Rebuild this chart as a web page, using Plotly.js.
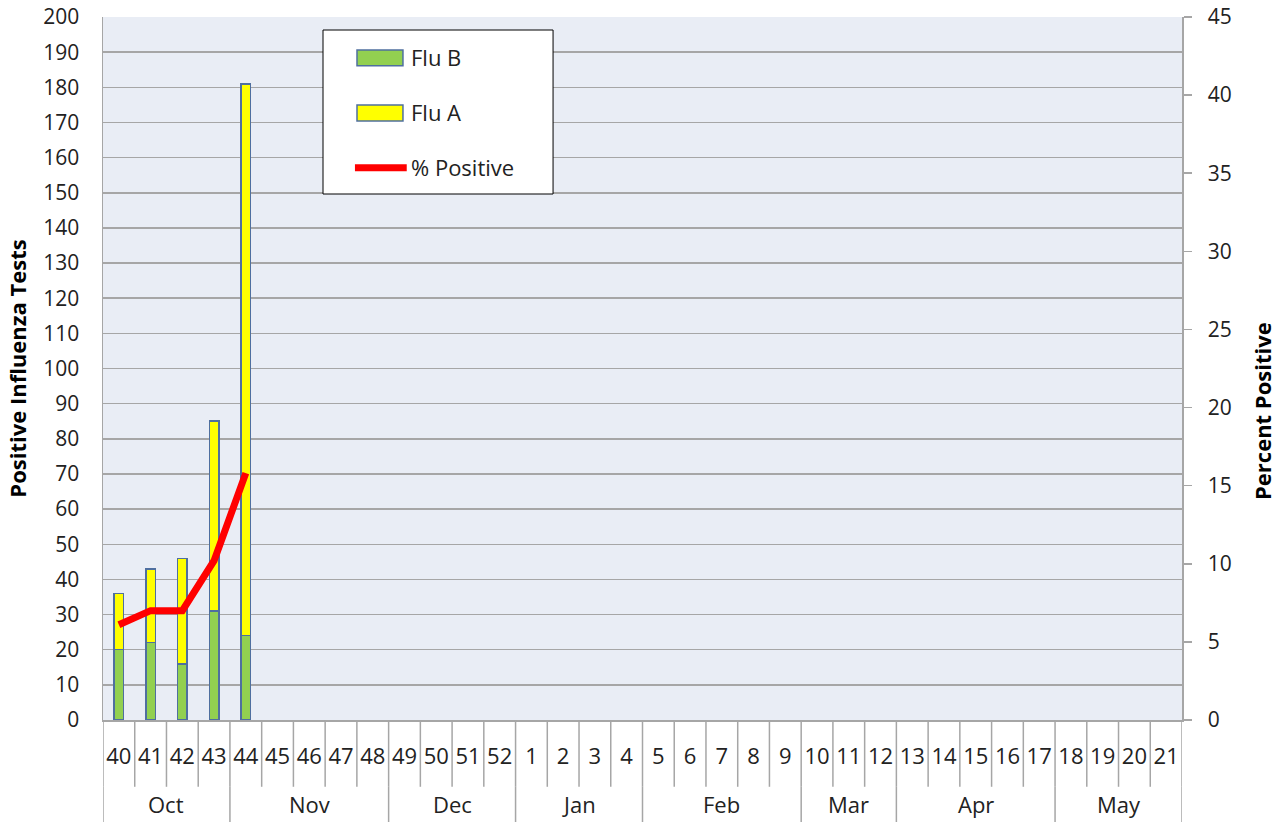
<!DOCTYPE html>
<html>
<head>
<meta charset="utf-8">
<script src="https://cdn.plot.ly/plotly-3.0.1.min.js"></script>
<style>
html,body{margin:0;padding:0;background:#fff;}
#chart{width:1284px;height:822px;}
</style>
</head>
<body>
<div id="chart"></div>
<script>
// ---- data ----
var weeks = ["40","41","42","43","44","45","46","47","48","49","50","51","52",
             "1","2","3","4","5","6","7","8","9","10","11","12","13","14","15","16","17",
             "18","19","20","21"];
var months = ["Oct","Nov","Dec","Jan","Feb","Mar","Apr","May"];
var monthWeekCounts = [4,5,4,4,5,3,5,4];
var fluB = [20,22,16,31,24];
var fluA = [16,21,30,54,157];
var pctPositive = [6.1,7.0,7.0,10.2,15.8];
var leftTicks = [0,10,20,30,40,50,60,70,80,90,100,110,120,130,140,150,160,170,180,190,200];
var rightTicks = [0,5,10,15,20,25,30,35,40,45];
var seriesNames = ["Flu B","Flu A","% Positive"];

// ---- styles ----
var FONT = "Open Sans, Noto Sans, sans-serif";
var GRID = "#a6a6a6";
var BAR_LINE = "#4f6f9f";
var GREEN = "#92d050", YELLOW = "#ffff00", RED = "#ff0000";
var TXT = "#222222";

var dataWeeks = weeks.slice(0, fluB.length);

var traces = [
  {type:"bar", name:seriesNames[0], x:dataWeeks, y:fluB, width:0.3,
   marker:{color:GREEN, line:{color:BAR_LINE, width:1.5}}, showlegend:false},
  {type:"bar", name:seriesNames[1], x:dataWeeks, y:fluA, width:0.3,
   marker:{color:YELLOW, line:{color:BAR_LINE, width:1.5}}, showlegend:false},
  {type:"scatter", mode:"lines", name:seriesNames[2], x:dataWeeks, y:pctPositive, yaxis:"y2",
   line:{color:RED, width:7}, showlegend:false}
];

// separators and month labels derived from the category structure
var shapes = [];
var annotations = [];
var n = weeks.length;
var lowY = -0.095;   // end of week separators
var bottomY = -0.146; // bottom of the figure
for (var i = 0; i <= n; i++) {
  shapes.push({type:"line", xref:"x", yref:"paper", x0:i-0.5, x1:i-0.5, y0:0, y1:lowY,
               line:{color:GRID, width:1.5}});
}
var start = 0;
shapes.push({type:"line", xref:"x", yref:"paper", x0:-0.5, x1:-0.5, y0:lowY, y1:bottomY, line:{color:GRID, width:1.5}});
for (var m = 0; m < months.length; m++) {
  var end = start + monthWeekCounts[m];
  shapes.push({type:"line", xref:"x", yref:"paper", x0:end-0.5, x1:end-0.5, y0:lowY, y1:bottomY,
               line:{color:GRID, width:1.5}});
  annotations.push({xref:"x", yref:"paper", x:(start+end-1)/2, y:-0.1195, text:months[m],
                    showarrow:false, font:{family:FONT, size:22, color:TXT}, yanchor:"middle"});
  start = end;
}
annotations.push({xref:"paper", yref:"paper", x:1.0735, y:0.44, text:"<b>Percent Positive</b>",
                  textangle:-90, showarrow:false, font:{family:FONT, size:22, color:"#000"},
                  xanchor:"center", yanchor:"middle"});

// ---- legend box (decoration, paper coordinates) ----
shapes.push({type:"rect", xref:"paper", yref:"paper", x0:0.2039, x1:0.4171, y0:0.7482, y1:0.9815,
             fillcolor:"#ffffff", line:{color:"#000000", width:1}});
shapes.push({type:"rect", xref:"paper", yref:"paper", x0:0.2354, x1:0.2780, y0:0.9307, y1:0.9531,
             fillcolor:GREEN, line:{color:BAR_LINE, width:1.5}});
shapes.push({type:"rect", xref:"paper", yref:"paper", x0:0.2354, x1:0.2780, y0:0.8521, y1:0.8748,
             fillcolor:YELLOW, line:{color:BAR_LINE, width:1.5}});
shapes.push({type:"line", xref:"paper", yref:"paper", x0:0.2335, x1:0.2815, y0:0.7856, y1:0.7856,
             line:{color:RED, width:7}});
var legendY = [0.9427, 0.8644, 0.7871];
for (var k = 0; k < seriesNames.length; k++) {
  annotations.push({xref:"paper", yref:"paper", x:0.2835, y:legendY[k], text:seriesNames[k],
                    showarrow:false, xanchor:"left", yanchor:"middle",
                    font:{family:FONT, size:22, color:TXT}});
}

var layout = {
  width:1284, height:822,
  margin:{l:103, r:102, t:17, b:102},
  paper_bgcolor:"#ffffff",
  plot_bgcolor:"#e9edf5",
  barmode:"stack",
  font:{family:FONT, size:20, color:TXT},
  showlegend:false,
  xaxis:{type:"category", categoryorder:"array", categoryarray:weeks,
         range:[-0.5, n-0.5], tickmode:"array", tickvals:weeks, ticktext:weeks,
         showgrid:false, zeroline:false, showline:true, linecolor:GRID, linewidth:1.5,
         ticks:"", ticklabelstandoff:16, tickfont:{family:FONT, size:22, color:TXT}},
  yaxis:{range:[0,200], tickmode:"array", tickvals:leftTicks,
         showgrid:true, gridcolor:GRID, gridwidth:1.5, zeroline:false,
         showline:true, linecolor:GRID, linewidth:1.5, ticks:"",
         ticklabelstandoff:18, tickfont:{family:FONT, size:21, color:TXT},
         title:{text:"<b>Positive Influenza Tests</b>", font:{family:FONT, size:22, color:"#000"}, standoff:10}},
  yaxis2:{range:[0,45], overlaying:"y", side:"right", tickmode:"array", tickvals:rightTicks,
          showgrid:false, zeroline:false, showline:true, linecolor:GRID, linewidth:1.5,
          ticks:"outside", ticklen:8, tickcolor:GRID, tickwidth:1.5,
          ticklabelstandoff:12, tickfont:{family:FONT, size:21, color:TXT}},
  shapes:shapes,
  annotations:annotations
};

Plotly.newPlot("chart", traces, layout, {displayModeBar:false, staticPlot:true});
</script>
</body>
</html>
